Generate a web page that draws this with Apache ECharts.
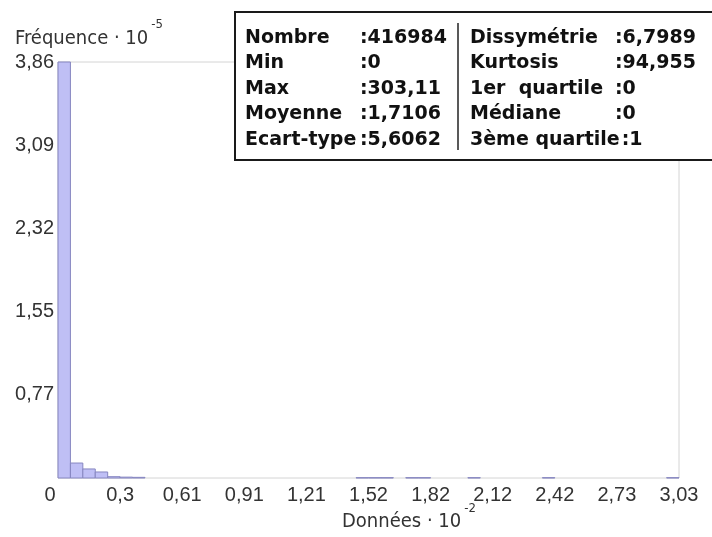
<!DOCTYPE html>
<html>
<head>
<meta charset="utf-8">
<script src="https://cdn.jsdelivr.net/npm/echarts@6/dist/echarts.min.js"></script>
<style>
  html, body { margin: 0; padding: 0; background: #ffffff; }
  #chart { width: 712px; height: 537px; }
</style>
</head>
<body>
<div id="chart"></div>
<script>
// Histogram: 50 equal-width bins between 0 and the data maximum.
// x in units of 10^-2, frequency in units of 10^-5.
const dataMax = 3.0311;
const freqMax = 3.863;
const binCount = 50;
const binFreq = [
  3.863, 0.139, 0.084, 0.056, 0.012, 0.008, 0.006, 0, 0, 0,
  0, 0, 0, 0, 0, 0, 0, 0, 0, 0,
  0, 0, 0, 0, 0.003, 0.003, 0.003, 0, 0.003, 0.003,
  0, 0, 0, 0.003, 0, 0, 0, 0, 0, 0.003,
  0, 0, 0, 0, 0, 0, 0, 0, 0, 0.003
];

// Summary statistics shown in the box
const statsLeftLabels = ['Nombre', 'Min', 'Max', 'Moyenne', 'Ecart-type'];
const statsLeftValues = ['416984', '0', '303,11', '1,7106', '5,6062'];
const statsRightLabels = ['Dissymétrie', 'Kurtosis', '1er  quartile', 'Médiane', '3ème quartile'];
const statsRightValues = ['6,7989', '94,955', '0', '0', '1'];

const yTitle = 'Fréquence · 10';
const yTitleExp = '-5';
const xTitle = 'Données · 10';
const xTitleExp = '-2';

const binWidth = dataMax / binCount;
const barData = [];
binFreq.forEach(function (f, i) {
  if (f > 0) barData.push([i * binWidth, (i + 1) * binWidth, f]);
});

function fmt(v) {
  return (+v.toFixed(2)).toString().replace('.', ',');
}

const measureCtx = document.createElement('canvas').getContext('2d');
function textWidth(text, font) {
  measureCtx.font = font;
  return measureCtx.measureText(text).width;
}

const tickFont = '"Liberation Sans", Arial, sans-serif';
const titleFontFamily = '"DejaVu Sans Condensed", "DejaVu Sans", sans-serif';
const titleFont = '20px ' + titleFontFamily;
const expFont = '13px ' + titleFontFamily;
const statFont = 'bold 19px "DejaVu Sans", Verdana, sans-serif';
const textColor = '#333333';

function txt(x, y, text, font, fill, align) {
  return {
    type: 'text', z: 110, x: x, y: y,
    style: {
      text: text, font: font, fill: fill,
      align: align || 'left', verticalAlign: 'middle',
      textAlign: align || 'left', textVerticalAlign: 'middle'
    }
  };
}

const graphics = [];

// axis titles with exponent
graphics.push(txt(15, 39, yTitle, titleFont, textColor));
graphics.push(txt(15 + textWidth(yTitle, titleFont) + 3, 25, yTitleExp, expFont, textColor));
graphics.push(txt(342, 522, xTitle, titleFont, textColor));
graphics.push(txt(342 + textWidth(xTitle, titleFont) + 3, 509, xTitleExp, expFont, textColor));

// statistics box
graphics.push({
  type: 'rect', z: 100,
  shape: { x: 235, y: 12, width: 500, height: 148 },
  style: { fill: '#ffffff', stroke: '#1a1a1a', lineWidth: 2 }
});
graphics.push({
  type: 'line', z: 105,
  shape: { x1: 458, y1: 23, x2: 458, y2: 150 },
  style: { stroke: '#222222', lineWidth: 1.5 }
});
const rowY = [38, 63.5, 89, 114.5, 140];
function statColumn(labels, values, labelX, colonX) {
  labels.forEach(function (lab, i) {
    graphics.push(txt(labelX, rowY[i], lab, statFont, '#111111'));
    const cx = Math.max(colonX, labelX + textWidth(lab, statFont) + 2);
    graphics.push(txt(cx, rowY[i], ':' + values[i], statFont, '#111111'));
  });
}
statColumn(statsLeftLabels, statsLeftValues, 245, 360);
statColumn(statsRightLabels, statsRightValues, 470, 615);

const chart = echarts.init(document.getElementById('chart'), null, { renderer: 'canvas' });
chart.setOption({
  animation: false,
  backgroundColor: '#ffffff',
  grid: {
    left: 58, top: 62, width: 621, height: 416,
    show: true, borderColor: '#d4d4d4', borderWidth: 1
  },
  xAxis: {
    type: 'value', min: 0, max: dataMax, interval: dataMax / 10,
    axisLine: { show: false }, axisTick: { show: false }, splitLine: { show: false },
    axisLabel: {
      margin: 7, color: textColor, fontSize: 20, fontFamily: tickFont,
      showMaxLabel: true,
      formatter: function (v) { return v === 0 ? '{o|0}' : fmt(v); },
      rich: { o: { padding: [0, 16, 0, 0], fontSize: 20, fontFamily: tickFont, color: textColor } }
    }
  },
  yAxis: {
    type: 'value', min: 0, max: freqMax, interval: freqMax / 5,
    axisLine: { show: false }, axisTick: { show: false }, splitLine: { show: false },
    axisLabel: {
      margin: 4, color: textColor, fontSize: 20, fontFamily: tickFont,
      showMinLabel: false, showMaxLabel: true,
      formatter: function (v) { return fmt(v); }
    }
  },
  series: [{
    type: 'custom',
    data: barData,
    encode: { x: [0, 1], y: 2 },
    renderItem: function (params, api) {
      const p0 = api.coord([api.value(0), 0]);
      const p1 = api.coord([api.value(1), api.value(2)]);
      return {
        type: 'rect',
        shape: { x: p0[0], y: p1[1], width: p1[0] - p0[0], height: p0[1] - p1[1] },
        style: { fill: '#bfbff5', stroke: '#8686c0', lineWidth: 1 }
      };
    }
  }],
  graphic: graphics
});
</script>
</body>
</html>
